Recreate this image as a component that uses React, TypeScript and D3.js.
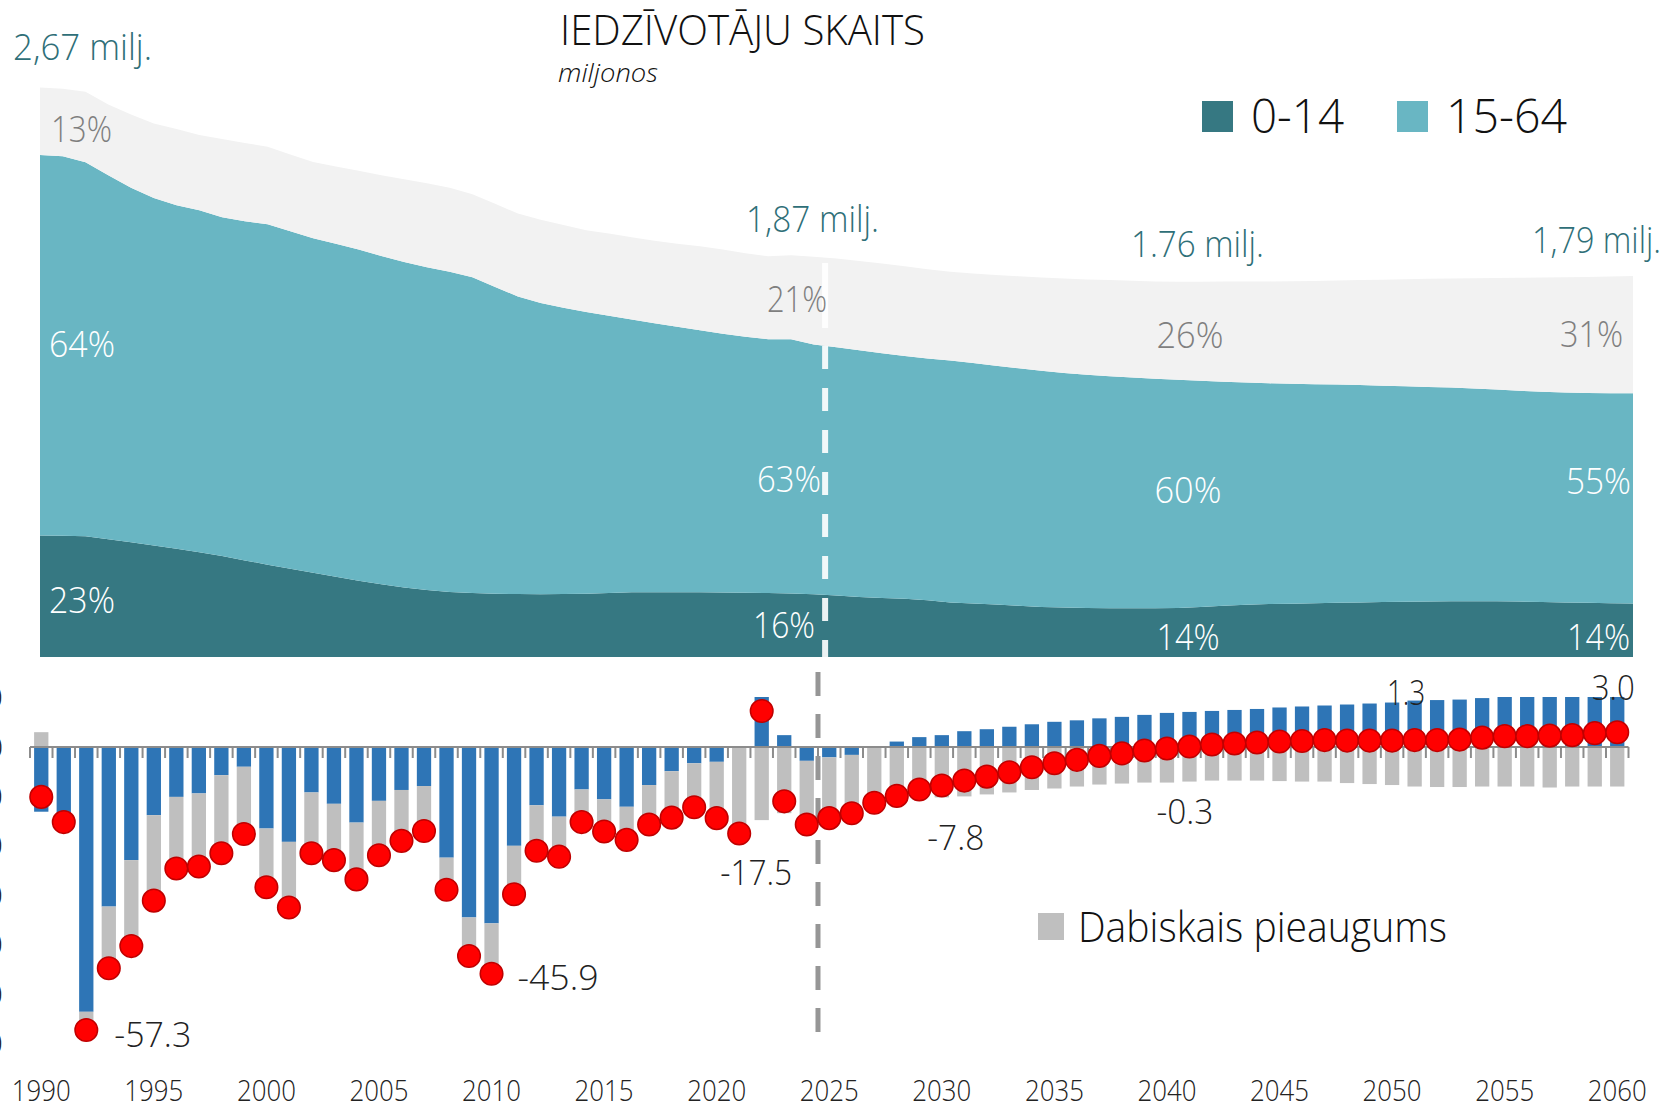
import React from "react";
import * as d3 from "d3";

// ---------- DATA ----------
const years: number[] = d3.range(1990, 2061);

// population by age group, millions
const pop0_14: number[] = [
  0.570, 0.569, 0.566, 0.552, 0.538, 0.523, 0.508, 0.491, 0.473, 0.453,
  0.433, 0.414, 0.395, 0.376, 0.358, 0.341, 0.326, 0.314, 0.305, 0.300,
  0.297, 0.295, 0.294, 0.295, 0.297, 0.300, 0.303, 0.304, 0.304, 0.303,
  0.302, 0.301, 0.300, 0.298, 0.294, 0.288, 0.281, 0.277, 0.273, 0.266,
  0.256, 0.251, 0.246, 0.240, 0.235, 0.232, 0.230, 0.229, 0.228, 0.228,
  0.230, 0.235, 0.240, 0.245, 0.248, 0.250, 0.252, 0.254, 0.256, 0.258,
  0.259, 0.260, 0.261, 0.261, 0.261, 0.260, 0.258, 0.256, 0.254, 0.252, 0.251,
];
const pop15_64: number[] = [
  1.783, 1.779, 1.754, 1.707, 1.662, 1.629, 1.610, 1.603, 1.589, 1.590,
  1.596, 1.582, 1.568, 1.561, 1.552, 1.539, 1.526, 1.513, 1.501, 1.480,
  1.438, 1.395, 1.366, 1.342, 1.320, 1.300, 1.279, 1.261, 1.244, 1.229,
  1.214, 1.201, 1.190, 1.192, 1.171, 1.164, 1.157, 1.147, 1.138, 1.134,
  1.134, 1.127, 1.120, 1.114, 1.107, 1.100, 1.093, 1.087, 1.082, 1.077,
  1.070, 1.060, 1.051, 1.042, 1.035, 1.031, 1.027, 1.023, 1.019, 1.014,
  1.010, 1.006, 1.002, 0.998, 0.993, 0.988, 0.986, 0.984, 0.984, 0.985, 0.986,
];
const pop65plus: number[] = [
  0.317, 0.316, 0.330, 0.331, 0.344, 0.349, 0.357, 0.353, 0.366, 0.367,
  0.363, 0.360, 0.358, 0.363, 0.370, 0.379, 0.388, 0.394, 0.394, 0.390,
  0.390, 0.389, 0.390, 0.388, 0.384, 0.385, 0.386, 0.387, 0.389, 0.394,
  0.394, 0.391, 0.389, 0.394, 0.411, 0.416, 0.418, 0.421, 0.421, 0.418,
  0.416, 0.420, 0.425, 0.431, 0.437, 0.442, 0.447, 0.451, 0.454, 0.456,
  0.459, 0.464, 0.469, 0.473, 0.478, 0.481, 0.484, 0.488, 0.492, 0.497,
  0.502, 0.507, 0.512, 0.517, 0.523, 0.530, 0.535, 0.540, 0.544, 0.547, 0.549,
];

// population change components, thousands
const migration: number[] = [
  -13.1, -13.4, -53.6, -32.3, -22.9, -13.8, -10.1, -9.4, -5.7, -4.0,
  -16.5, -19.2, -9.2, -11.5, -15.3, -10.9, -8.7, -7.9, -22.4, -34.5,
  -35.7, -20.0, -11.8, -14.1, -8.6, -10.6, -12.1, -7.7, -4.9, -3.3,
  -3.0, 0.0, 22.1, 2.4, -2.8, -2.1, -1.6, 0.2, 1.1, 2.0,
  2.4, 3.2, 3.6, 4.1, 4.6, 5.1, 5.4, 5.8, 6.1, 6.5,
  6.9, 7.1, 7.3, 7.5, 7.7, 8.0, 8.2, 8.4, 8.6, 8.8,
  9.0, 9.4, 9.5, 9.6, 9.9, 10.2, 10.2, 10.5, 10.4, 10.8, 11.0,
];
const natural: number[] = [
  3.0, -1.8, -3.7, -12.5, -17.4, -17.3, -14.5, -14.8, -15.8, -13.6,
  -11.9, -13.3, -12.3, -11.4, -11.5, -11.0, -10.3, -9.1, -6.5, -7.8,
  -10.2, -9.8, -9.2, -8.1, -6.6, -6.5, -6.7, -8.0, -9.4, -8.9,
  -11.4, -17.5, -14.8, -13.4, -12.9, -12.3, -11.8, -11.5, -11.0, -10.6,
  -10.2, -10.0, -9.6, -9.2, -8.7, -8.4, -8.0, -7.6, -7.4, -7.2,
  -7.2, -7.0, -6.8, -6.8, -6.8, -6.9, -7.0, -7.0, -7.3, -7.5,
  -7.7, -8.0, -8.1, -8.1, -8.0, -8.0, -8.0, -8.2, -8.0, -8.0, -8.0,
];

const yTicks: number[] = [10, 0, -10, -20, -30, -40, -50, -60];
const yearTicks: number[] = [1990, 1995, 2000, 2005, 2010, 2015, 2020, 2025, 2030, 2035, 2040, 2045, 2050, 2055, 2060];

const totalLabels: string[] = ["2,67 milj.", "1,87 milj.", "1.76 milj.", "1,79 milj."];
const shareLabels65: string[] = ["13%", "21%", "26%", "31%"];
const shareLabels1564: string[] = ["64%", "63%", "60%", "55%"];
const shareLabels014: string[] = ["23%", "16%", "14%", "14%"];
const labelledYears: number[] = [1992, 2010, 2021, 2030, 2040, 2050, 2060];

const legendAges: string[] = ["0-14", "15-64"];
const legendNatural = "Dabiskais pieaugums";
const title = "IEDZĪVOTĀJU SKAITS";
const subtitle = "miljonos";

// ---------- STYLE ----------
const C014 = "#367882";
const C1564 = "#69b6c3";
const C65 = "#f2f2f2";
const CTEAL = "#2f6f78";
const CBLUE = "#2e75b6";
const CGRAY = "#bfbfbf";
const FONT = "'Open Sans', 'Noto Sans', sans-serif";

function T(props: any) {
  const { w, children, ...rest } = props;
  const extra = w ? { textLength: w, lengthAdjust: "spacingAndGlyphs" } : {};
  return (
    <text fontWeight={300} {...rest} {...extra}>
      {children}
    </text>
  );
}

export default function App() {
  const W = 1666;
  const H = 1107;

  // area chart scales
  const xA = d3.scaleLinear().domain([1990, 2060]).range([40, 1633]);
  const yA = d3.scaleLinear().domain([0, 2.67]).range([657, 87.5]);
  const rowsA = years.map((y, i) => ({ year: y, a: pop0_14[i], b: pop15_64[i], c: pop65plus[i] }));
  const stackA = d3.stack<any>().keys(["a", "b", "c"])(rowsA);
  const areaGen = d3
    .area<any>()
    .x((d) => xA(d.data.year))
    .y0((d) => yA(d[0]))
    .y1((d) => yA(d[1]));
  const areaColors = [C014, C1564, C65];

  // bar chart scales
  const xB = d3
    .scaleBand<string>()
    .domain(years.map(String))
    .range([30, 1628.5])
    .paddingInner(0.365)
    .paddingOuter(0.1825);
  const yB = d3.scaleLinear().domain([-60, 10]).range([1043.4, 697.6]);
  const rowsB = years.map((y, i) => ({ year: String(y), mig: migration[i], nat: natural[i] }));
  const stackB = d3.stack<any>().keys(["mig", "nat"]).offset(d3.stackOffsetDiverging)(rowsB);
  const barColors = [CBLUE, CGRAY];
  const totals = years.map((y, i) => migration[i] + natural[i]);
  const cx = (y: number) => (xB(String(y)) as number) + xB.bandwidth() / 2;
  const step = xB.step();
  const [bx0, bx1] = xB.range();
  const zeroY = yB(0);

  const dashXB = (cx(2024) + cx(2025)) / 2;
  const dashXA = xA(2024.5);

  // label layout (offsets from the related point)
  const dotLabelOffsets: { [k: number]: [number, number, string] } = {
    1992: [28, 17, "start"],
    2010: [26, 16, "start"],
    2021: [17, 52, "middle"],
    2030: [14, 64, "middle"],
    2040: [18, 76, "middle"],
    2050: [14, -36, "middle"],
    2060: [-4, -32, "middle"],
  };
  const dotLabelWidths: { [k: number]: number } = { 1992: 77, 2010: 81, 2021: 72, 2030: 57, 2040: 57, 2050: 38, 2060: 43 };

  const x0 = xA(1990);

  return (
    <div style={{ position: "absolute", left: 0, top: 0, width: W, height: H, background: "#fff" }}>
      <svg width={W} height={H} viewBox={`0 0 ${W} ${H}`} style={{ display: "block", fontFamily: FONT }}>
        <defs>
          <clipPath id="barClip">
            <rect x={0} y={697} width={W} height={H - 697} />
          </clipPath>
        </defs>

        {/* stacked areas */}
        {stackA.map((s, i) => (
          <path key={i} d={areaGen(s as any) || ""} fill={areaColors[i]} />
        ))}

        {/* white dashed divider in the area chart */}
        <line x1={dashXA} x2={dashXA} y1={263} y2={328} stroke="#fff" strokeOpacity={0.9} strokeWidth={6} />
        <line x1={dashXA} x2={dashXA} y1={346} y2={657} stroke="#fff" strokeOpacity={0.9} strokeWidth={6} strokeDasharray="23 19" />

        {/* title */}
        <T x={560} y={45} fontSize={42} fill="#111" w={365}>{title}</T>
        <T x={558} y={82} fontSize={25} fontStyle="italic" fill="#111" w={100}>{subtitle}</T>

        {/* total labels */}
        <T x={13} y={60} fontSize={37} fill={CTEAL} w={139}>{totalLabels[0]}</T>
        <T x={746} y={232} fontSize={37} fill={CTEAL} w={133}>{totalLabels[1]}</T>
        <T x={1131} y={257} fontSize={37} fill={CTEAL} w={133}>{totalLabels[2]}</T>
        <T x={1532} y={253} fontSize={37} fill={CTEAL} w={129}>{totalLabels[3]}</T>

        {/* share labels */}
        <T x={x0 + 11} y={142} fontSize={37} fill="#7f7f7f" w={61}>{shareLabels65[0]}</T>
        <T x={x0 + 9} y={357} fontSize={37} fill="#fff" w={66}>{shareLabels1564[0]}</T>
        <T x={x0 + 9} y={613} fontSize={37} fill="#fff" w={66}>{shareLabels014[0]}</T>

        <T x={827} y={312} textAnchor="end" fontSize={37} fill="#7f7f7f" w={60}>{shareLabels65[1]}</T>
        <T x={821} y={492} textAnchor="end" fontSize={37} fill="#fff" w={64}>{shareLabels1564[1]}</T>
        <T x={815} y={638} textAnchor="end" fontSize={37} fill="#fff" w={62}>{shareLabels014[1]}</T>

        <T x={1190} y={348} textAnchor="middle" fontSize={37} fill="#7f7f7f" w={67}>{shareLabels65[2]}</T>
        <T x={1188} y={503} textAnchor="middle" fontSize={37} fill="#fff" w={67}>{shareLabels1564[2]}</T>
        <T x={1188} y={650} textAnchor="middle" fontSize={37} fill="#fff" w={63}>{shareLabels014[2]}</T>

        <T x={1623} y={347} textAnchor="end" fontSize={37} fill="#7f7f7f" w={63}>{shareLabels65[3]}</T>
        <T x={1631} y={494} textAnchor="end" fontSize={37} fill="#fff" w={65}>{shareLabels1564[3]}</T>
        <T x={1630} y={650} textAnchor="end" fontSize={37} fill="#fff" w={63}>{shareLabels014[3]}</T>

        {/* age legend */}
        <rect x={1202} y={101} width={31} height={31} fill={C014} />
        <T x={1251} y={133} fontSize={48} fill="#111" w={93}>{legendAges[0]}</T>
        <rect x={1397} y={101} width={31} height={31} fill={C1564} />
        <T x={1446} y={133} fontSize={48} fill="#111" w={121}>{legendAges[1]}</T>

        {/* y tick labels (mostly clipped by the left edge, as in the original) */}
        {yTicks.map((t) => (
          <T key={t} x={3} y={yB(t)} dy="0.35em" textAnchor="end" fontSize={30} fill="#222">
            {t}
          </T>
        ))}

        {/* bars */}
        <g clipPath="url(#barClip)">
          {stackB.map((s, si) =>
            s.map((d: any, i: number) => {
              const y0 = yB(d[0]);
              const y1 = yB(d[1]);
              return (
                <rect
                  key={`${si}-${i}`}
                  x={xB(d.data.year) as number}
                  y={Math.min(y0, y1)}
                  width={xB.bandwidth()}
                  height={Math.abs(y1 - y0)}
                  fill={barColors[si]}
                />
              );
            })
          )}
        </g>

        {/* zero axis with category ticks */}
        <line x1={bx0} x2={bx1} y1={zeroY} y2={zeroY} stroke="#8c8c8c" strokeWidth={2} />
        {d3.range(years.length + 1).map((i) => (
          <line key={i} x1={bx0 + i * step} x2={bx0 + i * step} y1={zeroY} y2={zeroY + 11} stroke="#8c8c8c" strokeWidth={2} />
        ))}

        {/* grey dashed divider */}
        <line x1={dashXB} x2={dashXB} y1={672} y2={1033} stroke="#969696" strokeWidth={5} strokeDasharray="24 18" />

        {/* total change dots */}
        {years.map((y, i) => (
          <circle key={y} cx={cx(y)} cy={yB(totals[i])} r={11.3} fill="#ff0000" stroke="#c00000" strokeWidth={1.5} />
        ))}

        {/* dot labels */}
        {labelledYears.map((y) => {
          const i = years.indexOf(y);
          const [dx, dy, anchor] = dotLabelOffsets[y];
          return (
            <T key={y} x={cx(y) + dx} y={yB(totals[i]) + dy} textAnchor={anchor} fontSize={35} fill="#222" w={dotLabelWidths[y]}>
              {totals[i].toFixed(1)}
            </T>
          );
        })}

        {/* natural increase legend */}
        <rect x={1038} y={913} width={26} height={27} fill={CGRAY} />
        <T x={1078} y={942} fontSize={43} fill="#111" w={369}>{legendNatural}</T>

        {/* x axis year labels */}
        {yearTicks.map((y) => (
          <T key={y} x={cx(y)} y={1101} textAnchor="middle" fontSize={30} fill="#222" w={59}>
            {y}
          </T>
        ))}
      </svg>
    </div>
  );
}
